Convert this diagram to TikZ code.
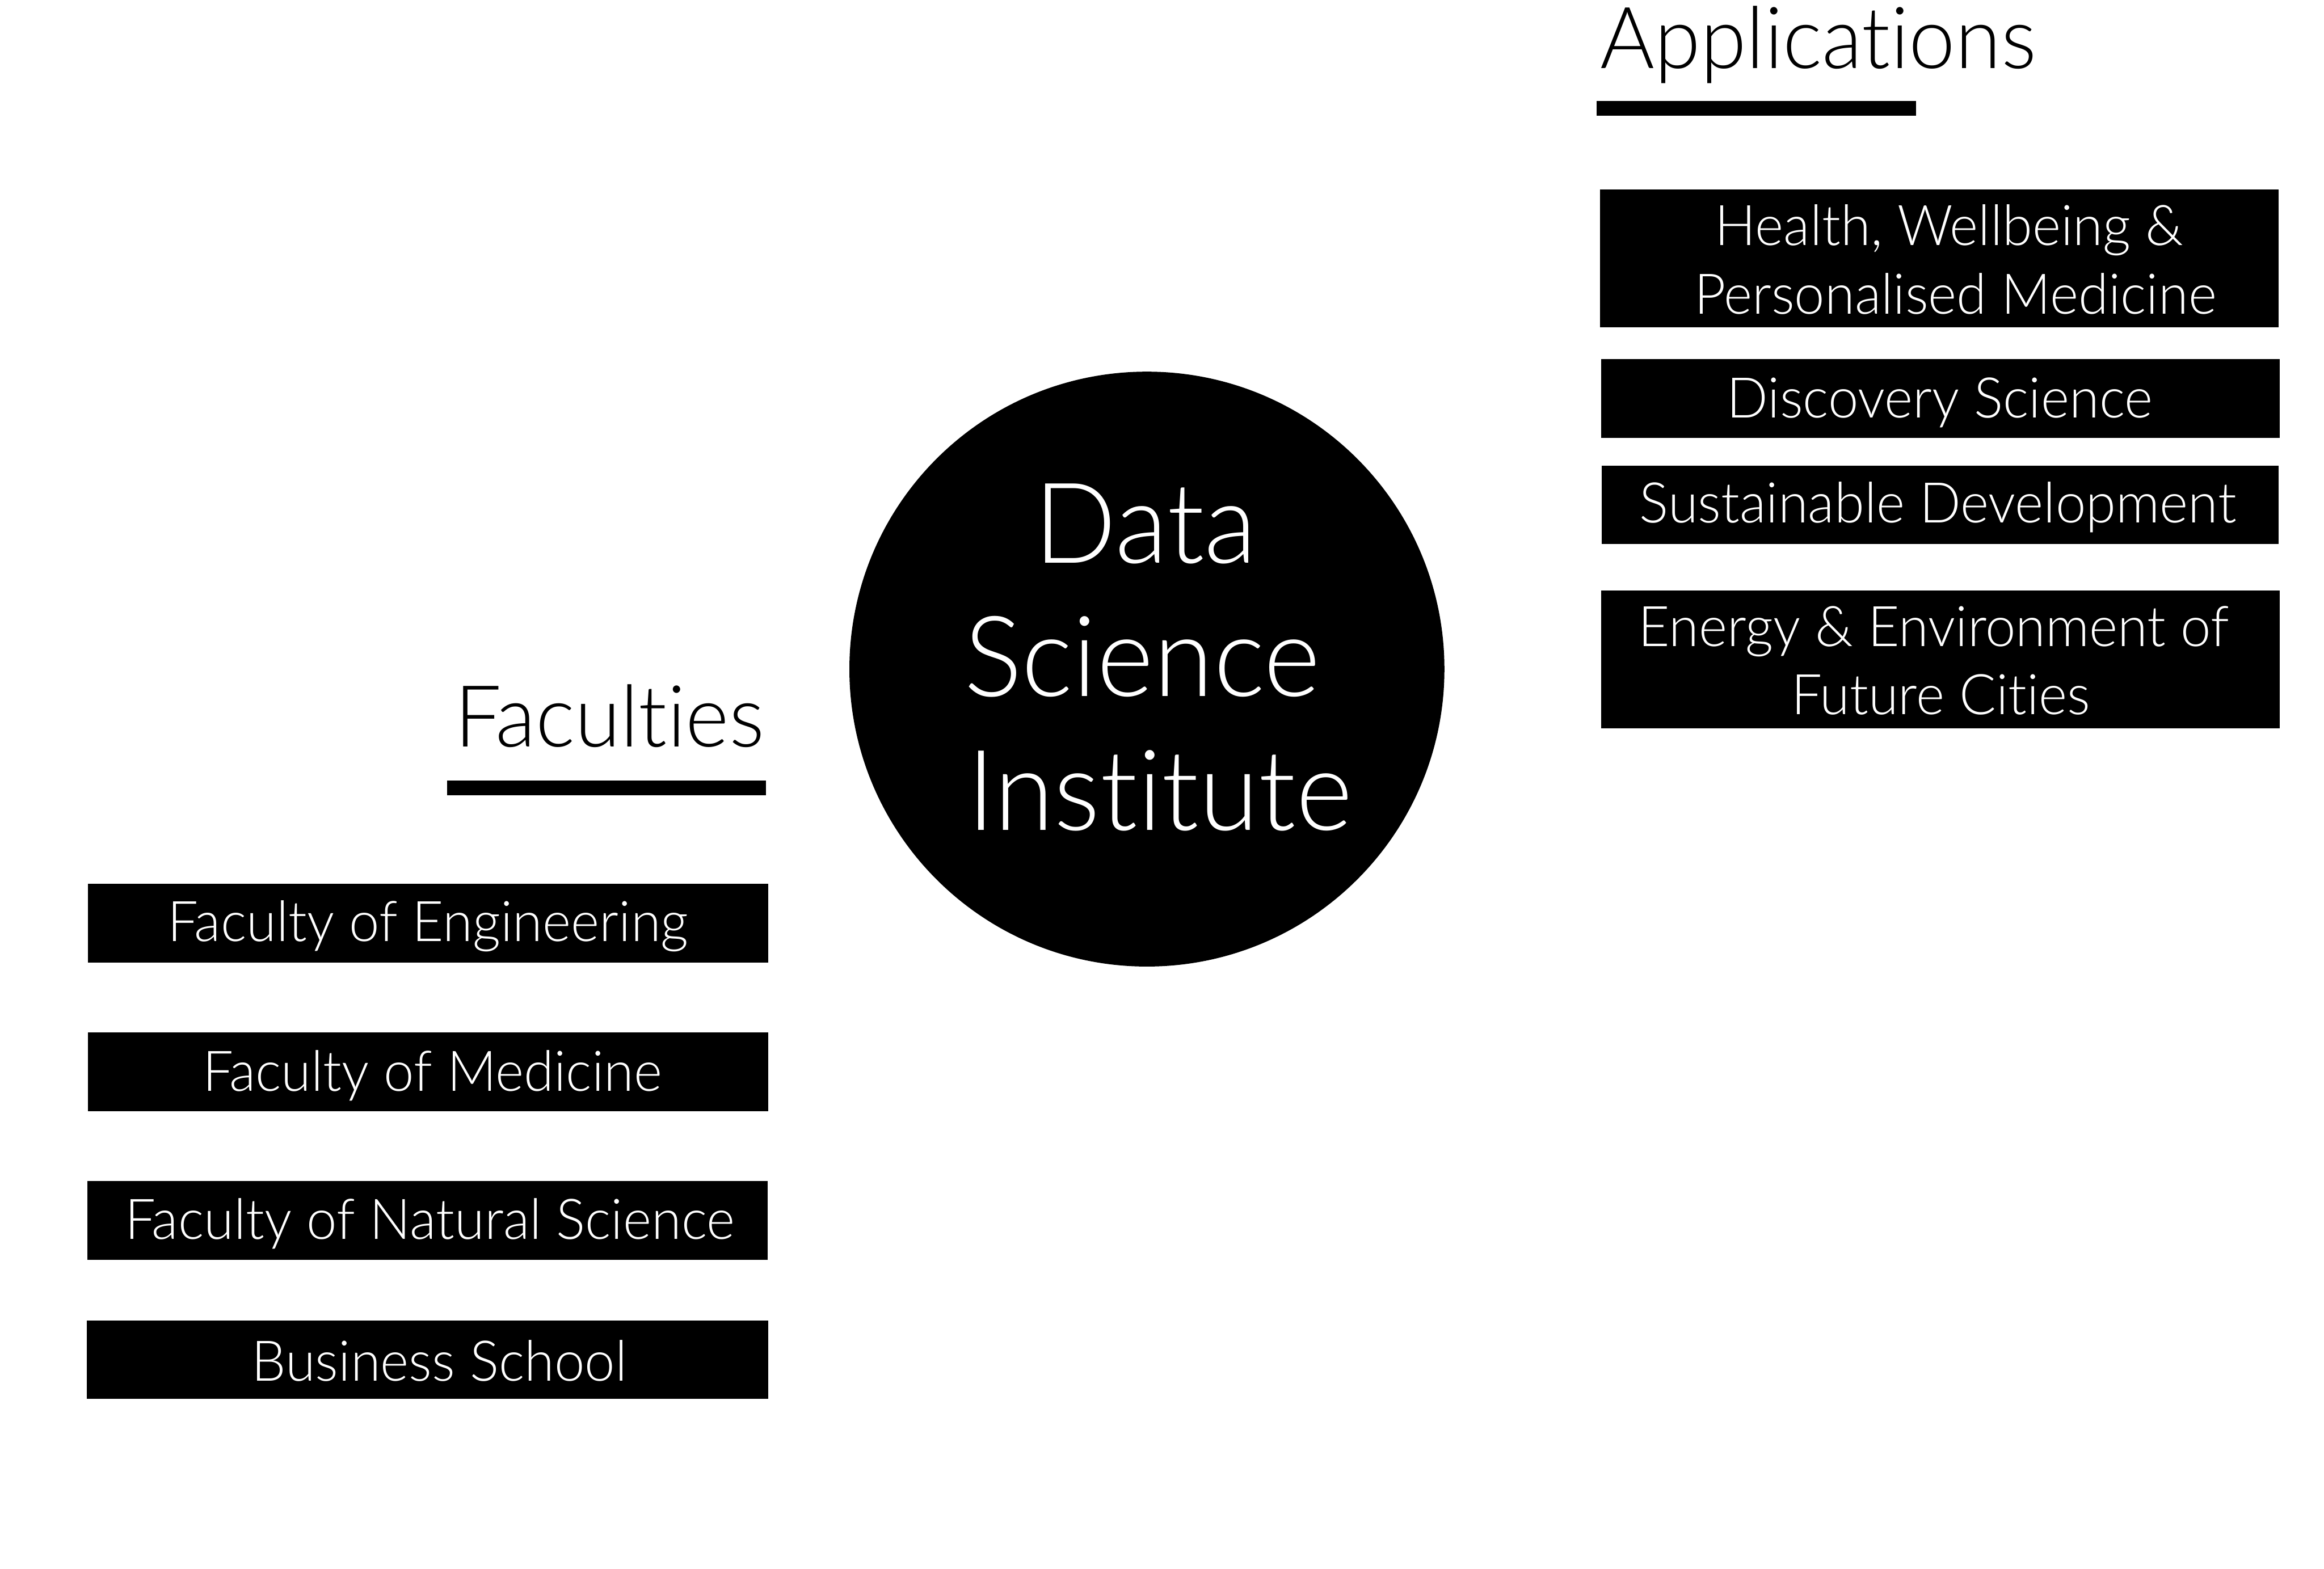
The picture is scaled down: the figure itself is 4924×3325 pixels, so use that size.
\documentclass[tikz,border=0pt]{standalone}
\usepackage{fontspec}
\setmainfont{Lato Light}[Ligatures={NoCommon,NoRare,NoDiscretionary},FakeStretch=0.97]
\begin{document}
\begin{tikzpicture}[x=0.01cm,y=-0.01cm,
  blackbox/.style={fill=black,draw=none,inner sep=0pt,outer sep=0pt},
  boxtext/.style={text=white,inner sep=0pt,anchor=base,font=\fontsize{33.8}{40}\selectfont},
  bigtext/.style={text=white,inner sep=0pt,anchor=base,font=\fontsize{67.5}{80}\selectfont},
  headtext/.style={text=black,inner sep=0pt,font=\fontsize{51.6}{60}\selectfont},
  bar/.style={fill=black,draw=none}]
\useasboundingbox (0,0) rectangle (4924,3325);
% Applications
\node[headtext,anchor=base west] (apph) at (3390,145) {Applications};
\fill[bar] (3383,214) rectangle (4060,245);
\path[blackbox] (3390,401) rectangle (4828,694);
\node[boxtext] (hw1) at (4130,520) {Health, Wellbeing \&};
\node[boxtext] (hw2) at (4143,665) {Personalised Medicine};
\path[blackbox] (3392,761) rectangle (4830,928);
\node[boxtext] (ds) at (4110,885) {Discovery Science};
\path[blackbox] (3394,987) rectangle (4828,1153);
\node[boxtext] (sd) at (4106,1108) {Sustainable Development};
\path[blackbox] (3392,1251) rectangle (4830,1544);
\node[boxtext] (ee1) at (4097,1370) {Energy \& Environment of};
\node[boxtext] (ee2) at (4112,1514) {Future Cities};
% Circle
\node[circle,fill=black,minimum size=12.6cm,inner sep=0pt] (dsi) at (2430,1418) {};
\node[bigtext] (d1) at (2427,1193) {Data};
\node[bigtext] (d2) at (2420,1476) {Science};
\node[bigtext] (d3) at (2457,1759) {Institute};
% Faculties
\node[headtext,anchor=base east] (fach) at (1620,1583) {Faculties};
\fill[bar] (947,1654) rectangle (1623,1685);
\path[blackbox] (186,1873) rectangle (1628,2040);
\node[boxtext] (fe) at (907,1995) {Faculty of Engineering};
\path[blackbox] (186,2188) rectangle (1628,2355);
\node[boxtext] (fm) at (916,2312) {Faculty of Medicine};
\path[blackbox] (185,2503) rectangle (1626,2670);
\node[boxtext] (fn) at (911,2626) {Faculty of Natural Science};
\path[blackbox] (184,2798) rectangle (1628,2965);
\node[boxtext] (bs) at (931,2927) {Business School};
\end{tikzpicture}
\end{document}
